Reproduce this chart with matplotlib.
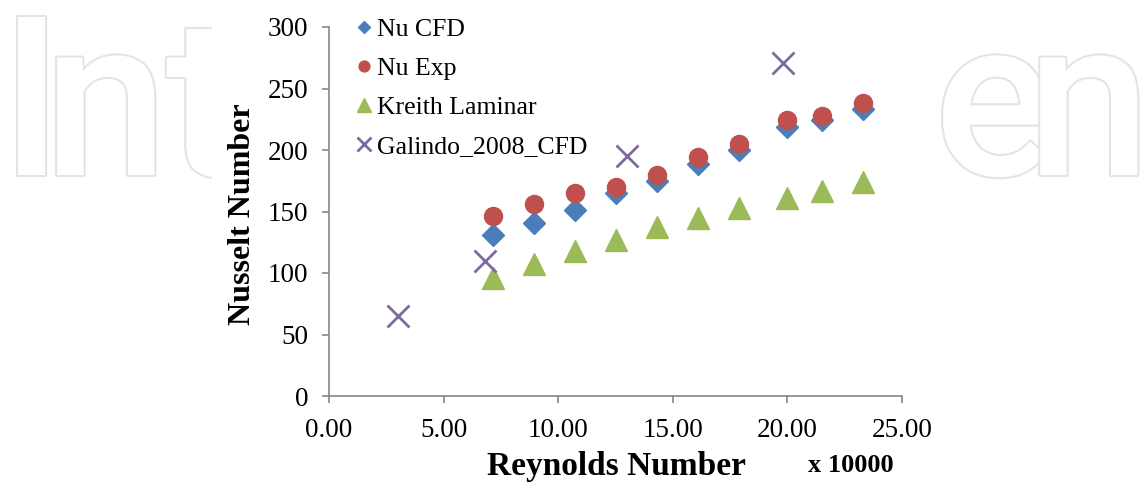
import matplotlib
matplotlib.use("Agg")
import matplotlib.pyplot as plt
import matplotlib.patheffects as pe
from matplotlib.patches import Rectangle

# Reynolds number (x 10000) and Nusselt number values
re_exp = [7.16, 8.95, 10.74, 12.5, 14.3, 16.1, 17.9, 20.0, 21.5, 23.3]
nu_cfd = [131, 141, 151, 165, 175, 189, 200, 219, 224, 233]
nu_exp = [146, 156, 165, 170, 180, 194, 205, 224, 228, 238]
nu_kreith = [96, 107, 118, 127, 137, 145, 153, 161, 167, 174]

re_galindo = [3.0, 6.8, 13.0, 19.8]
nu_galindo = [65, 110, 195, 271]

x_ticks = [0, 5, 10, 15, 20, 25]
y_ticks = [0, 50, 100, 150, 200, 250, 300]

W, H = 1142, 487
fig = plt.figure(figsize=(W / 100, H / 100), dpi=100)

# faint "IntechOpen" watermark behind the chart image
wm = dict(fontsize=160, color="white", family="Roboto", fontweight="medium",
          ha="left", va="baseline", zorder=-2,
          path_effects=[pe.withStroke(linewidth=3, foreground="#e4e4e4")])
for ch, px in [("I", 0), ("n", 44), ("t", 166), ("e", 934), ("n", 1027)]:
    fig.text(px / W, 1 - 175 / H, ch, **wm)
fig.patches.append(Rectangle((212 / W, 0), (938 - 212) / W, 1,
                             transform=fig.transFigure, facecolor="white",
                             edgecolor="none", zorder=-1))

ax = fig.add_axes([329 / W, 91 / H, 573 / W, 369 / H])
ax.patch.set_alpha(0)

ax.plot(re_exp, nu_cfd, "D", color="#4a7ebb", markersize=11, label="Nu CFD")
ax.plot(re_exp, nu_exp, "o", color="#c0504d", markersize=13, label="Nu Exp")
ax.plot(re_exp, nu_kreith, "^", color="#9bbb59", markersize=16,
        label="Kreith Laminar")
ax.plot(re_galindo, nu_galindo, "x", color="#7f6a9f", markersize=16,
        markeredgewidth=2, label="Galindo_2008_CFD")

ax.set_xlim(0, 25)
ax.set_ylim(0, 300)
ax.set_xticks(x_ticks)
ax.set_xticklabels([f"{v:.2f}" for v in x_ticks])
ax.set_yticks(y_ticks)

for s in ["top", "right"]:
    ax.spines[s].set_visible(False)
for s in ["left", "bottom"]:
    ax.spines[s].set_color("#868686")
    ax.spines[s].set_linewidth(1.2)

ax.tick_params(axis="both", colors="#868686", length=5, width=1.2,
               labelsize=19.5, labelcolor="black")
ax.tick_params(axis="y", pad=10)
ax.tick_params(axis="x", pad=11)
for lab in ax.get_xticklabels() + ax.get_yticklabels():
    lab.set_family("Liberation Serif")

fig.text(243 / W, 1 - 214 / H, "Nusselt Number", rotation=90,
         ha="center", va="center", fontsize=23, fontweight="bold",
         family="Liberation Serif")
fig.text(616 / W, 1 - 467 / H, "Reynolds Number", ha="center", va="center",
         fontsize=24, fontweight="bold", family="Liberation Serif")
fig.text(851 / W, 1 - 466 / H, "x 10000", ha="center", va="center",
         fontsize=19, fontweight="bold", family="Liberation Serif")

ax.legend(loc="upper left", bbox_to_anchor=(0.048, 1.024), frameon=False,
          markerscale=0.6, handlelength=0.6, handletextpad=0.2,
          borderpad=0, borderaxespad=0, labelspacing=0.62,
          prop={"family": "Liberation Serif", "size": 18.5})

fig.savefig("out.png", dpi=100)
